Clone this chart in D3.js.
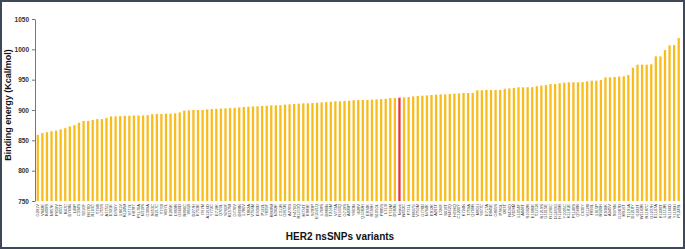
<!DOCTYPE html>
<html>
<head>
<meta charset="utf-8">
<script src="https://cdn.jsdelivr.net/npm/d3@7"></script>
<style>
  body { margin: 0; background: #fff; }
  text { font-family: "Liberation Sans", Arial, sans-serif; }
</style>
</head>
<body>
<div id="barchart"></div>
<script>
// variant labels (too small to read in the source, so estimated)
const variants = [
  "G291V","V842E","R499S","N857K","P659V","I655T","R47C","D769N","L49P","C334S",
  "S310F","R678Q","R103C","T798I","L755S","A775G","E321K","D769Y","L841V","R124W",
  "V777L","H878Y","P1170A","N319S","G309A","S653C","R217C","T733I","V697L","E265K",
  "L869R","G660D","R896C","V842I","D277H","K753E","I767M","A1216D","Y772C","E719K",
  "Q709L","S760F","R157W","G776V","D808N","L786V","T862A","V794M","E930D","P122L",
  "Y835F","R868W","N302K","C311R","G815R","A270S","H470Q","R1153Q","M774T","K883E",
  "S783P","E1021Q","L768S","D880N","T216M","V773A","R143Q","G719S","A829P","Y803N",
  "I628V","Q1082H","E874K","R599H","S1050L","P885S","L313I","T732M","D582N","Native",
  "W452C","F731L","R897G","V750M","G778D","N764K","E812K","A293T","L726F","S418T",
  "R462Q","H696Q","C1220Y","K724N","T759A","Q799R","M801I","Y877C","E717A","D845E",
  "G865S","P780L","I263T","R434Q","V308M","L1054F","A848T","S1002R","E1086K","T1152I",
  "N1219S","G1015E","R1230C","D1243G","H1249R","Y1005C","K1181E","P1140S","Q568R","C630Y",
  "V1128I","F899L","L915P","R920H","E936K","A945V","S976N","G1087D","M916T","T1191A",
  "D1218Y","I1022T","W1142R","R1187C","Q1237H","E1107A","K1028T","L1112R","N1166D","Y1196H",
  "P1248L"
];

// binding energy per variant (Kcal/mol)
const energy = [
  859, 862, 863.5, 865, 866, 868, 870, 873, 875, 879,
  882, 882, 883.5, 885, 885, 887, 889.5, 889.5, 890, 890.5,
  890.5, 891, 891, 891, 891.5, 893, 893.5, 893.5, 894, 894,
  894.5, 896, 899, 899.5, 900, 900, 900, 901, 901.5, 902,
  902.5, 902.5, 903, 903.5, 904.3, 905, 905.5, 906, 906, 906.6,
  907, 907.7, 907.7, 908, 908.8, 909.3, 910, 910.5, 911, 911,
  911.5, 912, 912.5, 913, 913.6, 914.3, 914.3, 915, 915.4, 916,
  916.5, 916.5, 916.5, 917, 917.5, 918, 918.5, 919.7, 919.7, 920.3,
  920.8, 921.4, 922.5, 923, 923.6, 924, 924.7, 925.2, 925.8, 925.8,
  926.4, 927, 927.4, 928, 928, 928, 932.4, 932.4, 933, 933,
  933, 933, 935, 935.6, 936.2, 937.4, 937.4, 937.5, 937.7, 939.3,
  940.4, 941, 942.8, 942.8, 944, 945, 945.6, 945.6, 945.6, 946,
  947.3, 948.3, 948.3, 949.4, 953.8, 953.8, 954.4, 955, 955.5, 957.7,
  969.7, 974.7, 974.7, 974.7, 975.3, 988.4, 988.4, 998.8, 1006.6, 1007,
  1018.5
];

const highlighted = ["Native"];
const yTicks = [750, 800, 850, 900, 950, 1000, 1050];

const W = 685, H = 249;

const svg = d3.select("#barchart")
  .append("svg")
    .attr("width", W)
    .attr("height", H);

svg.append("rect")
  .attr("width", W).attr("height", H)
  .attr("fill", "#fff");

// frame round the figure
svg.append("rect")
  .attr("x", 1).attr("y", 1)
  .attr("width", W - 2).attr("height", H - 2)
  .attr("fill", "none")
  .attr("stroke", "#3e4858")
  .attr("stroke-width", 2);

const data = variants.map((v, i) => ({ name: v, value: energy[i] }));

const x = d3.scaleBand()
  .domain(variants)
  .range([35.5, 681])
  .paddingInner(0.5)
  .paddingOuter(0.25);

const y = d3.scaleLinear()
  .domain([750, 1050])
  .range([201, 19]);

// bars
svg.append("g")
  .selectAll("rect")
  .data(data)
  .join("rect")
    .attr("x", d => x(d.name))
    .attr("width", x.bandwidth())
    .attr("y", d => y(d.value))
    .attr("height", d => y(750) - y(d.value))
    .attr("fill", d => highlighted.includes(d.name) ? "#e8333c" : "#f8bc1c");

// y axis
const yAxis = svg.append("g")
  .attr("transform", "translate(35,0)")
  .call(d3.axisLeft(y).tickValues(yTicks).tickFormat(d3.format("d"))
    .tickSize(3).tickSizeOuter(0).tickPadding(3));
yAxis.select(".domain").attr("stroke", "#777");
yAxis.selectAll(".tick line").attr("stroke", "#777");
yAxis.selectAll(".tick text")
  .attr("font-size", "6.5px")
  .attr("font-weight", "bold")
  .attr("fill", "#333");

// x labels, vertical
svg.append("g")
  .selectAll("text")
  .data(data)
  .join("text")
    .attr("transform", d => `translate(${x(d.name) + x.bandwidth() / 2 + 1.4},204) rotate(-90)`)
    .attr("text-anchor", "end")
    .attr("font-size", "4px")
    .attr("fill", "#333")
    .text(d => d.name);

// axis titles
svg.append("text")
  .attr("transform", "translate(11,105) rotate(-90)")
  .attr("text-anchor", "middle")
  .attr("font-size", "9px")
  .attr("font-weight", "bold")
  .attr("fill", "#111")
  .text("Binding energy (Kcal/mol)");

svg.append("text")
  .attr("x", 340)
  .attr("y", 240)
  .attr("text-anchor", "middle")
  .attr("font-size", "10px")
  .attr("font-weight", "bold")
  .attr("fill", "#111")
  .text("HER2 nsSNPs variants");
</script>
</body>
</html>
